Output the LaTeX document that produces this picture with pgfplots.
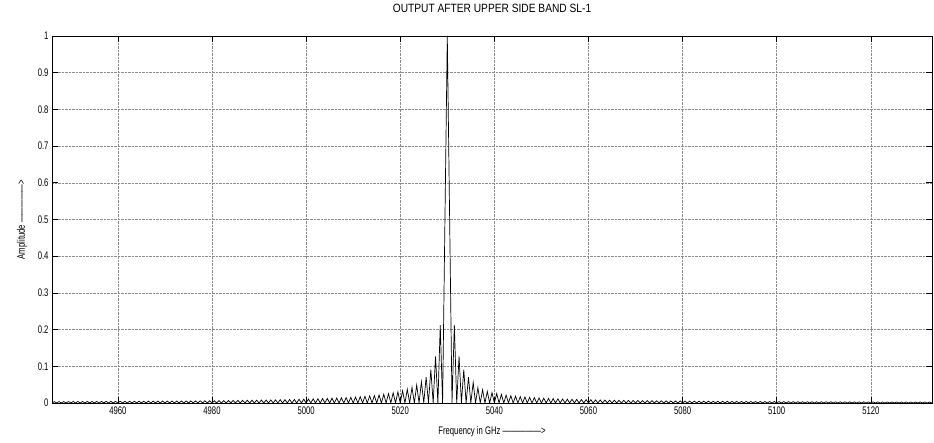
\documentclass[border=0pt]{standalone}
\usepackage{fontspec}
\setmainfont{Liberation Sans}
\newfontfamily\narrow{Liberation Sans}[FakeStretch=0.7]
\newfontfamily\titlefont{Liberation Sans}[FakeStretch=0.85]
\usepackage{pgfplots}
\pgfplotsset{compat=1.18}
\begin{document}
\begin{tikzpicture}
\path[use as bounding box] (-52pt,-39pt) rectangle (882pt,403pt);
\begin{axis}[
  at={(0,0)}, anchor=south west,
  scale only axis, width=880pt, height=367pt,
  xmin=4946, xmax=5133, ymin=0, ymax=1,
  xtick={4960,4980,5000,5020,5040,5060,5080,5100,5120},
  ytick={0,0.1,0.2,0.3,0.4,0.5,0.6,0.7,0.8,0.9,1},
  grid=major,
  major grid style={densely dotted, black!45, line width=0.5pt},
  tick align=inside, major tick length=6pt,
  axis line style={line width=0.9pt},
  tick style={line width=0.6pt, black},
  ticklabel style={font=\narrow\fontsize{11}{12}\selectfont},
  /pgf/number format/assume math mode=true,
  /pgf/number format/1000 sep={},
  title={OUTPUT AFTER UPPER SIDE BAND SL-1},
  title style={font=\titlefont\fontsize{12}{13}\selectfont, at={(axis description cs:0.5,1.06)}, anchor=center},
  xlabel={Frequency in GHz \textemdash\textemdash\textemdash\textemdash\textemdash>},
  xlabel style={font=\narrow\fontsize{11}{12}\selectfont, at={(axis description cs:0.5,-0.079)}, anchor=center},
  ylabel={Amplitude \textemdash\textemdash\textemdash\textemdash\textemdash>},
  ylabel style={font=\narrow\fontsize{11}{12}\selectfont, at={(axis description cs:-0.034,0.5)}, anchor=center},
]
\addplot[black, line width=0.7pt, mark=none] coordinates {
(4946,0)(4946.5,.0038)(4947,0)(4947.5,.0039)(4948,0)(4948.5,.0039)(4949,0)(4949.5,.0040)(4950,0)(4950.5,.0040)
(4951,0)(4951.5,.0041)(4952,0)(4952.5,.0041)(4953,0)(4953.5,.0042)(4954,0)(4954.5,.0042)(4955,0)(4955.5,.0043)
(4956,0)(4956.5,.0043)(4957,0)(4957.5,.0044)(4958,0)(4958.5,.0045)(4959,0)(4959.5,.0045)(4960,0)(4960.5,.0046)
(4961,0)(4961.5,.0046)(4962,0)(4962.5,.0047)(4963,0)(4963.5,.0048)(4964,0)(4964.5,.0049)(4965,0)(4965.5,.0049)
(4966,0)(4966.5,.0050)(4967,0)(4967.5,.0051)(4968,0)(4968.5,.0052)(4969,0)(4969.5,.0053)(4970,0)(4970.5,.0053)
(4971,0)(4971.5,.0054)(4972,0)(4972.5,.0055)(4973,0)(4973.5,.0056)(4974,0)(4974.5,.0057)(4975,0)(4975.5,.0058)
(4976,0)(4976.5,.0059)(4977,0)(4977.5,.0061)(4978,0)(4978.5,.0062)(4979,0)(4979.5,.0063)(4980,0)(4980.5,.0064)
(4981,0)(4981.5,.0066)(4982,0)(4982.5,.0067)(4983,0)(4983.5,.0068)(4984,0)(4984.5,.0070)(4985,0)(4985.5,.0072)
(4986,0)(4986.5,.0073)(4987,0)(4987.5,.0075)(4988,0)(4988.5,.0077)(4989,0)(4989.5,.0079)(4990,0)(4990.5,.0081)
(4991,0)(4991.5,.0083)(4992,0)(4992.5,.0085)(4993,0)(4993.5,.0087)(4994,0)(4994.5,.0090)(4995,0)(4995.5,.0092)
(4996,0)(4996.5,.0095)(4997,0)(4997.5,.0098)(4998,0)(4998.5,.0101)(4999,0)(4999.5,.0104)(5000,0)(5000.5,.0108)
(5001,0)(5001.5,.0112)(5002,0)(5002.5,.0116)(5003,0)(5003.5,.0120)(5004,0)(5004.5,.0125)(5005,0)(5005.5,.0130)
(5006,0)(5006.5,.0135)(5007,0)(5007.5,.0141)(5008,0)(5008.5,.0148)(5009,0)(5009.5,.0155)(5010,0)(5010.5,.0163)
(5011,0)(5011.5,.0172)(5012,0)(5012.5,.0182)(5013,0)(5013.5,.0193)(5014,0)(5014.5,.0205)(5015,0)(5015.5,.0220)
(5016,0)(5016.5,.0236)(5017,0)(5017.5,.0255)(5018,0)(5018.5,.0277)(5019,0)(5019.5,.0303)(5020,0)(5020.5,.0335)
(5021,0)(5021.5,.0374)(5022,0)(5022.5,.0424)(5023,0)(5023.5,.0490)(5024,0)(5024.5,.0579)(5025,0)(5025.5,.0707)
(5026,0)(5026.5,.0909)(5027,0)(5027.5,.1273)(5028,0)(5028.5,.2122)(5029,0)(5030,1)(5031,0)
(5031.5,.2122)(5032,0)(5032.5,.1273)(5033,0)(5033.5,.0909)(5034,0)(5034.5,.0707)(5035,0)(5035.5,.0560)(5036,0)
(5036.5,.0415)(5037,0)(5037.5,.0360)(5038,0)(5038.5,.0318)(5039,0)(5039.5,.0284)(5040,0)(5040.5,.0257)(5041,0)
(5041.5,.0235)(5042,0)(5042.5,.0216)(5043,0)(5043.5,.0200)(5044,0)(5044.5,.0186)(5045,0)(5045.5,.0174)(5046,0)
(5046.5,.0164)(5047,0)(5047.5,.0154)(5048,0)(5048.5,.0146)(5049,0)(5049.5,.0138)(5050,0)(5050.5,.0132)(5051,0)
(5051.5,.0126)(5052,0)(5052.5,.0120)(5053,0)(5053.5,.0115)(5054,0)(5054.5,.0110)(5055,0)(5055.5,.0106)(5056,0)
(5056.5,.0102)(5057,0)(5057.5,.0098)(5058,0)(5058.5,.0095)(5059,0)(5059.5,.0092)(5060,0)(5060.5,.0089)(5061,0)
(5061.5,.0086)(5062,0)(5062.5,.0083)(5063,0)(5063.5,.0081)(5064,0)(5064.5,.0078)(5065,0)(5065.5,.0076)(5066,0)
(5066.5,.0074)(5067,0)(5067.5,.0072)(5068,0)(5068.5,.0070)(5069,0)(5069.5,.0068)(5070,0)(5070.5,.0067)(5071,0)
(5071.5,.0065)(5072,0)(5072.5,.0064)(5073,0)(5073.5,.0062)(5074,0)(5074.5,.0061)(5075,0)(5075.5,.0059)(5076,0)
(5076.5,.0058)(5077,0)(5077.5,.0057)(5078,0)(5078.5,.0056)(5079,0)(5079.5,.0055)(5080,0)(5080.5,.0053)(5081,0)
(5081.5,.0052)(5082,0)(5082.5,.0051)(5083,0)(5083.5,.0050)(5084,0)(5084.5,.0050)(5085,0)(5085.5,.0049)(5086,0)
(5086.5,.0048)(5087,0)(5087.5,.0047)(5088,0)(5088.5,.0046)(5089,0)(5089.5,.0045)(5090,0)(5090.5,.0045)(5091,0)
(5091.5,.0044)(5092,0)(5092.5,.0043)(5093,0)(5093.5,.0043)(5094,0)(5094.5,.0042)(5095,0)(5095.5,.0041)(5096,0)
(5096.5,.0041)(5097,0)(5097.5,.0040)(5098,0)(5098.5,.0039)(5099,0)(5099.5,.0039)(5100,0)(5100.5,.0038)(5101,0)
(5101.5,.0038)(5102,0)(5102.5,.0037)(5103,0)(5103.5,.0037)(5104,0)(5104.5,.0036)(5105,0)(5105.5,.0036)(5106,0)
(5106.5,.0035)(5107,0)(5107.5,.0035)(5108,0)(5108.5,.0034)(5109,0)(5109.5,.0034)(5110,0)(5110.5,.0034)(5111,0)
(5111.5,.0033)(5112,0)(5112.5,.0033)(5113,0)(5113.5,.0032)(5114,0)(5114.5,.0032)(5115,0)(5115.5,.0032)(5116,0)
(5116.5,.0031)(5117,0)(5117.5,.0031)(5118,0)(5118.5,.0031)(5119,0)(5119.5,.0030)(5120,0)(5120.5,.0030)(5121,0)
(5121.5,.0030)(5122,0)(5122.5,.0029)(5123,0)(5123.5,.0029)(5124,0)(5124.5,.0029)(5125,0)(5125.5,.0028)(5126,0)
(5126.5,.0028)(5127,0)(5127.5,.0028)(5128,0)(5128.5,.0027)(5129,0)(5129.5,.0027)(5130,0)(5130.5,.0027)(5131,0)
(5131.5,.0027)(5132,0)(5132.5,.0026)(5133,0)
};
\end{axis}
\end{tikzpicture}
\end{document}
